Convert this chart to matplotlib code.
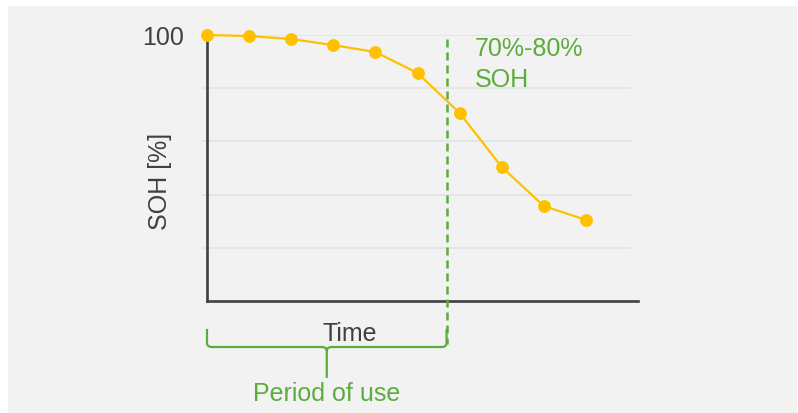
"""SOH over time with period of use"""
import matplotlib
matplotlib.use("Agg")
import matplotlib.pyplot as plt
from matplotlib.patches import Rectangle, PathPatch
from matplotlib.path import Path

# data
time_idx = [0, 1, 2, 3, 4, 5, 6, 7, 8, 9]
soh = [100, 99.6, 98.5, 96.2, 93.6, 85.7, 70.7, 50.4, 35.7, 30.5]
grid_levels = [20, 40, 60, 80, 100]
tick_labels = ['', '', '', '', '100']
end_of_use = 5.69

ORANGE = '#FFC000'
GREEN = '#5BAD3B'
DARK = '#404040'
GRID = '#E2E2E2'

plt.rcParams['font.family'] = ['Liberation Sans', 'DejaVu Sans']

fig = plt.figure(figsize=(7.98, 4.14), dpi=100)
fig.patch.set_facecolor('white')
fig.patches.append(Rectangle((8 / 798, 0), 789 / 798, 407 / 414,
                             transform=fig.transFigure, facecolor='#F2F2F2',
                             edgecolor='none', zorder=-10))

ax = fig.add_axes([207 / 798, 1 - 302 / 414, 431 / 798, 266 / 414])
ax.set_facecolor('none')
ax.set_xlim(0, 431 / 42.1)
ax.set_ylim(0, 100)

for s in ['top', 'right']:
    ax.spines[s].set_visible(False)
for s in ['left', 'bottom']:
    ax.spines[s].set_color(DARK)
    ax.spines[s].set_linewidth(1.9)

ax.hlines(grid_levels, 0, 10.07, colors=GRID, linewidth=1.1, zorder=0)
ax.set_yticks(grid_levels, labels=tick_labels)
ax.set_xticks([])
ax.tick_params(axis='y', length=4.5, color=GRID, width=1.1, pad=12,
               labelsize=18, labelcolor=DARK)

ax.plot(time_idx, soh, color=ORANGE, linewidth=1.6, marker='o',
        markersize=8.2, clip_on=False, zorder=5)

# end of period of use
ax.plot([end_of_use, end_of_use], [98.5, -16.2], color=GREEN, linewidth=1.8,
        linestyle=(0, (3.2, 2.0)), clip_on=False, zorder=4)
ax.text(6.36, 92.4, '70%-80%', color=GREEN, fontsize=18, va='baseline', ha='left')
ax.text(6.36, 80.9, 'SOH', color=GREEN, fontsize=18, va='baseline', ha='left')

# brace under the time axis
mid = end_of_use / 2
top, bend, low, stem = -10.5, -17.3, -15.8, -28.9
r = 0.12
verts = [(0, top), (0, low), (0, bend), (r, bend), (mid - r, bend),
         (mid, bend), (mid, bend - 1.5), (mid, stem),
         (end_of_use, top), (end_of_use, low), (end_of_use, bend),
         (end_of_use - r, bend), (mid + r, bend), (mid, bend), (mid, bend - 1.5)]
codes = [Path.MOVETO, Path.LINETO, Path.CURVE3, Path.CURVE3, Path.LINETO,
         Path.CURVE3, Path.CURVE3, Path.LINETO,
         Path.MOVETO, Path.LINETO, Path.CURVE3, Path.CURVE3, Path.LINETO,
         Path.CURVE3, Path.CURVE3]
ax.add_patch(PathPatch(Path(verts, codes), facecolor='none', edgecolor=GREEN,
                       linewidth=1.6, clip_on=False))

ax.text(3.38, -14.6, 'Time', color=DARK, fontsize=18, ha='center', va='baseline')
ax.text(mid, -37.4, 'Period of use', color=GREEN, fontsize=18, ha='center',
        va='baseline')
ax.text(-47 / 431, 0.453, 'SOH [%]', color=DARK, fontsize=18, rotation=90,
        ha='center', va='center', transform=ax.transAxes)

fig.savefig('out.png', dpi=100, facecolor='white')
